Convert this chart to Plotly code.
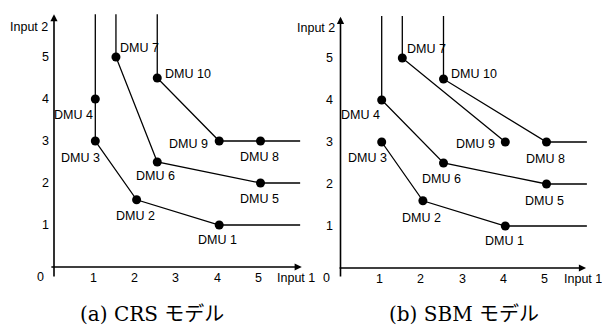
import plotly.graph_objects as go

# ---- data ----
dmu_names = ["DMU 1", "DMU 2", "DMU 3", "DMU 4", "DMU 5",
             "DMU 6", "DMU 7", "DMU 8", "DMU 9", "DMU 10"]
input1 = [4, 2, 1, 1, 5, 2.5, 1.5, 5, 4, 2.5]
input2 = [1, 1.6, 3, 4, 2, 2.5, 5, 3, 3, 4.5]

# frontier paths: (DMU indices, extend up from first, extend right from last)
crs_frontiers = [
    ([3, 2, 1, 0], True, True),
    ([6, 5, 4], True, True),
    ([9, 8, 7], True, True),
]
sbm_frontiers = [
    ([2, 1, 0], False, True),
    ([3, 5, 4], True, True),
    ([6, 8], True, False),
    ([9, 7], True, True),
]
tick_values = [1, 2, 3, 4, 5]
captions = ["(a) CRS モデル", "(b) SBM モデル"]
axis_titles = ["Input 1", "Input 2"]

# ---- layout geometry (pixels) ----
W, H = 602, 329
SANS = "Liberation Sans, Arial, sans-serif"
FS = 12.5

# label offsets (xanchor, xshift, yshift) per DMU for each panel
crs_label_pos = {
    0: ("center", -2, -15), 1: ("center", -1, -16), 2: ("center", -15, -17),
    3: ("right", 0, -16), 4: ("center", -1, -16), 5: ("center", -2, -14),
    6: ("left", 2, 9), 7: ("center", -1, -16), 8: ("right", -9, -3),
    9: ("left", 6, 4),
}
sbm_label_pos = {
    0: ("center", -1, -15), 1: ("center", -1, -17), 2: ("center", -14, -16),
    3: ("right", 0, -15), 4: ("center", -2, -17), 5: ("center", -2, -16),
    6: ("left", 3, 9), 7: ("center", -1, -17), 8: ("right", -8, -2),
    9: ("left", 5, 5),
}

panels = [
    dict(ox=54, oy=267, ux=41.3, uy=42.0, dom=(0, 320),
         fr=crs_frontiers, lab=crs_label_pos, xend=5.96, ytop=6.02,
         xax_start=-0.1, xax_end=6.0, yax_start=-0.26, yax_end=6.02,
         ytick_shift=-9, caption_x=152, in1_x=5.38),
    dict(ox=340.5, oy=268, ux=41.2, uy=42.0, dom=(290, 602),
         fr=sbm_frontiers, lab=sbm_label_pos, xend=5.98, ytop=6.0,
         xax_start=-0.06, xax_end=5.96, yax_start=-0.24, yax_end=5.98,
         ytick_shift=-11, caption_x=463.5, in1_x=5.40),
]
CAPTION_Y = 314

fig = go.Figure()
annotations = []
layout_axes = {}

for i, p in enumerate(panels):
    n = "" if i == 0 else str(i + 1)
    xa, ya = "x" + n, "y" + n
    d0, d1 = p["dom"]
    xr = [(d0 - p["ox"]) / p["ux"], (d1 - p["ox"]) / p["ux"]]
    yr = [(p["oy"] - H) / p["uy"], p["oy"] / p["uy"]]
    layout_axes["xaxis" + n] = dict(domain=[d0 / W, d1 / W], range=xr,
                                    visible=False, fixedrange=True,
                                    anchor=ya)
    layout_axes["yaxis" + n] = dict(domain=[0, 1], range=yr,
                                    visible=False, fixedrange=True,
                                    anchor=xa)

    # frontier lines
    for idx, up, right in p["fr"]:
        xs = [input1[k] for k in idx]
        ys = [input2[k] for k in idx]
        if up:
            xs = [xs[0]] + xs
            ys = [p["ytop"]] + ys
        if right:
            xs = xs + [p["xend"]]
            ys = ys + [ys[-1]]
        fig.add_trace(go.Scatter(x=xs, y=ys, mode="lines",
                                 line=dict(color="black", width=1.3),
                                 xaxis=xa, yaxis=ya, showlegend=False,
                                 hoverinfo="skip", cliponaxis=False))

    # DMU points
    fig.add_trace(go.Scatter(x=input1, y=input2, mode="markers",
                             marker=dict(color="black", size=9),
                             xaxis=xa, yaxis=ya, showlegend=False,
                             text=dmu_names, hoverinfo="text",
                             cliponaxis=False))

    # DMU labels
    for k, name in enumerate(dmu_names):
        anc, xs_, ys_ = p["lab"][k]
        annotations.append(dict(x=input1[k], y=input2[k], xref=xa, yref=ya,
                                text=name, showarrow=False, xanchor=anc,
                                yanchor="middle", xshift=xs_, yshift=ys_,
                                font=dict(family=SANS, size=FS,
                                          color="black")))

    # axes with arrows
    annotations.append(dict(x=p["xax_end"], y=0, ax=p["xax_start"], ay=0,
                            xref=xa, yref=ya, axref=xa, ayref=ya, text="",
                            showarrow=True, arrowhead=2, arrowsize=0.9,
                            arrowwidth=1.6, arrowcolor="black"))
    annotations.append(dict(x=0, y=p["yax_end"], ax=0, ay=p["yax_start"],
                            xref=xa, yref=ya, axref=xa, ayref=ya, text="",
                            showarrow=True, arrowhead=2, arrowsize=0.9,
                            arrowwidth=1.6, arrowcolor="black"))

    # tick labels
    for t in tick_values:
        annotations.append(dict(x=t, y=0, xref=xa, yref=ya, text=str(t),
                                showarrow=False, xanchor="center",
                                yanchor="middle", xshift=-2, yshift=-11,
                                font=dict(family=SANS, size=FS,
                                          color="black")))
        annotations.append(dict(x=0, y=t, xref=xa, yref=ya, text=str(t),
                                showarrow=False, xanchor="center",
                                yanchor="middle", xshift=p["ytick_shift"],
                                yshift=0,
                                font=dict(family=SANS, size=FS,
                                          color="black")))
    annotations.append(dict(x=0, y=0, xref=xa, yref=ya, text="0",
                            showarrow=False, xanchor="center",
                            yanchor="middle", xshift=-14, yshift=-10,
                            font=dict(family=SANS, size=FS, color="black")))
    # axis titles
    annotations.append(dict(x=p["in1_x"], y=0, xref=xa, yref=ya,
                            text=axis_titles[0], showarrow=False,
                            xanchor="left", yanchor="middle",
                            yshift=-11, borderpad=0,
                            font=dict(family=SANS, size=FS, color="black")))
    annotations.append(dict(x=0, y=5.72, xref=xa, yref=ya,
                            text=axis_titles[1], showarrow=False,
                            xanchor="right", yanchor="middle", xshift=-4,
                            font=dict(family=SANS, size=FS, color="black")))
    # caption
    annotations.append(dict(x=p["caption_x"] / W, y=1 - CAPTION_Y / H,
                            xref="paper", yref="paper", text=captions[i],
                            showarrow=False, xanchor="center",
                            yanchor="middle",
                            font=dict(family="DejaVu Serif, Noto Sans CJK JP",
                                      size=20, color="black")))

fig.update_layout(width=W, height=H, margin=dict(l=0, r=0, t=0, b=0),
                  paper_bgcolor="white", plot_bgcolor="rgba(0,0,0,0)",
                  annotations=annotations, **layout_axes)

# remove the page's default body margin so the figure fills the window
fig.write_html("out.html",
               config={"displayModeBar": False},
               post_script="document.body.style.margin='0';"
                           "document.body.style.overflow='hidden';")
